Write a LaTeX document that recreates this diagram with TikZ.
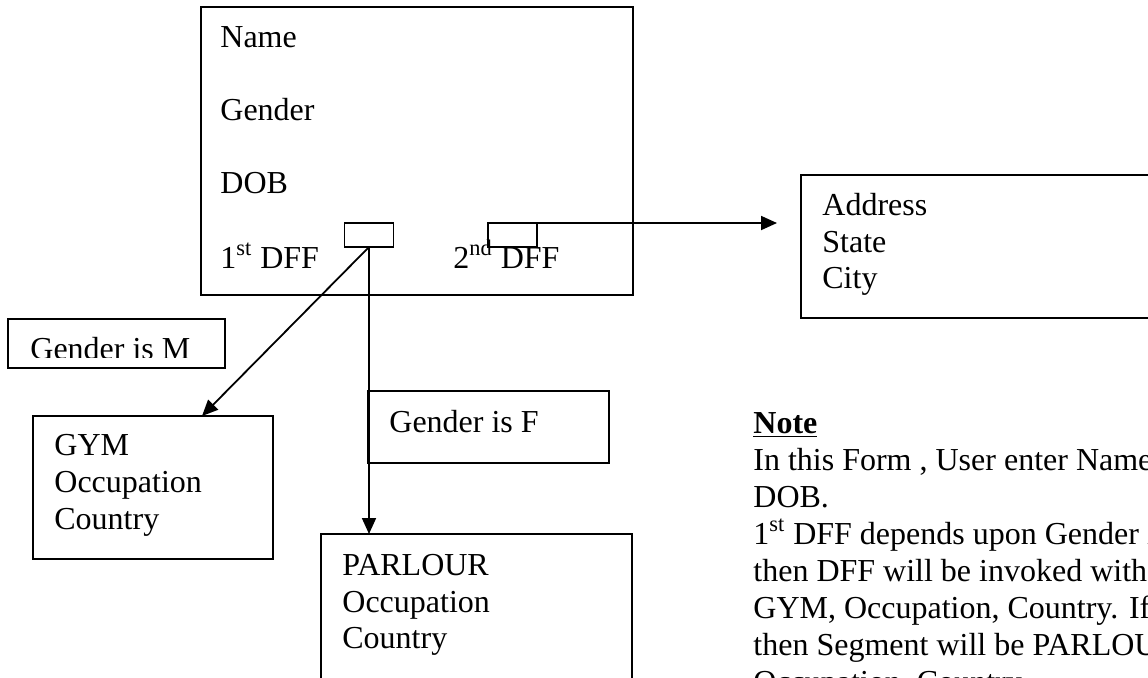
\documentclass[tikz,border=0pt]{standalone}
\usepackage{fontspec}
\setmainfont{Liberation Serif}
\usetikzlibrary{arrows.meta}
\begin{document}
\begin{tikzpicture}[x=0.5pt,y=-0.5pt,
  box/.style={draw,line width=0.9pt,anchor=north west,inner sep=0pt,outer sep=0pt},
  txt/.style={anchor=base west,inner sep=0pt,font=\fontsize{16pt}{18.5pt}\selectfont},
  arr/.style={line width=0.9pt,-{Triangle[length=8pt,width=7pt]}}]
\useasboundingbox (0,0) rectangle (1148,677);
\clip (0,0) rectangle (1148,677);
% boxes
\node[box,minimum width=216pt,minimum height=144pt] (main) at (201,7) {};
\node[box,minimum width=24.5pt,minimum height=12pt] (dffa) at (344.5,223) {};
\node[box,minimum width=24.5pt,minimum height=12pt] (dffb) at (488,223) {};
\node[box,minimum width=179.5pt,minimum height=71.5pt] (addr) at (801,175) {};
\node[box,minimum width=108.5pt,minimum height=24.5pt] (gm) at (8,319) {};
\node[box,minimum width=120pt,minimum height=71.5pt] (gym) at (33,416) {};
\node[box,minimum width=120.5pt,minimum height=36pt] (gf) at (368,391) {};
\node[box,minimum width=155.5pt,minimum height=83pt] (parl) at (321,534) {};
% main texts
\node[txt] (tname) at (220,47) {Name};
\node[txt] (tgender) at (220,120) {Gender};
\node[txt] (tdob) at (220,193) {DOB};
\node[txt] (tdffa) at (220,268) {1\textsuperscript{st} DFF};
\node[txt] (tdffb) at (453,268) {2\textsuperscript{nd} DFF};
% address
\node[txt] (taddr) at (822,215) {Address};
\node[txt] (tstate) at (822,252) {State};
\node[txt] (tcity) at (822,288) {City};
% gender is M (clipped)
\begin{scope}
\clip (10,321) rectangle (223,357);
\node[txt] (tgm) at (30,359) {Gender is M};
\end{scope}
\node[txt] (tgf) at (389,432) {Gender is F};
% gym
\node[txt] (tgym) at (54,455) {GYM};
\node[txt] (tgymo) at (54,492) {Occupation};
\node[txt] (tgymc) at (54,529) {Country};
% parlour
\node[txt] (tpar) at (342,575) {PARLOUR};
\node[txt] (tparo) at (342,612) {Occupation};
\node[txt] (tparc) at (342,648) {Country};
% note
\node[txt] (tnote) at (753,433) {\underline{\textbf{Note}}};
\node[txt] (n1) at (753,470) {In this Form , User enter Name};
\node[txt] (n2) at (753,507) {DOB.};
\node[txt] (n3) at (753,544) {1\textsuperscript{st} DFF depends upon Gender i};
\node[txt] (n4) at (753,581) {then DFF will be invoked with};
\node[txt] (n5) at (753,618) {GYM, Occupation, Country. If};
\node[txt] (n6) at (753,655) {then Segment will be PARLOU};
\node[txt] (n7) at (753,692) {Occupation, Country};
% connectors
\coordinate (gymin) at (202,416);
\draw[arr] (dffa.south) -- (gymin);
\draw[arr] (dffa.south) -- (dffa.south |- parl.north);
\draw[arr,shorten >=12pt] (dffb.north east) -- (dffb.north east -| addr.west);
\end{tikzpicture}
\end{document}
